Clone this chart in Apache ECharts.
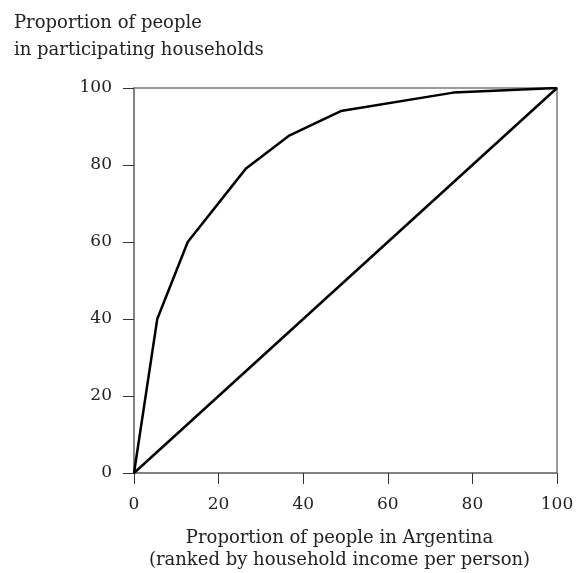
<!DOCTYPE html>
<html><head><meta charset="utf-8">
<script src="https://cdn.jsdelivr.net/npm/echarts@6/dist/echarts.min.js"></script>
<style>html,body{margin:0;padding:0;background:#fff}#c{width:577px;height:573px}</style>
</head><body><div id="c"></div>
<script>
const curveX = [0, 5.5, 12.7, 26.4, 36.8, 48.9, 75.5, 100];
const curveY = [0, 40, 60, 79, 87.7, 94, 98.8, 100];
const equalX = [0, 100];
const equalY = [0, 100];
const xTicks = [0, 20, 40, 60, 80, 100];
const yTicks = [0, 20, 40, 60, 80, 100];
const yTitle = 'Proportion of people\nin participating households';
const xTitle = 'Proportion of people in Argentina\n(ranked by household income per person)';

const FONT = '"DejaVu Serif", "Liberation Serif", serif';
const chart = echarts.init(document.getElementById('c'), null, {renderer: 'canvas'});
const axisCommon = {
  type: 'value', min: 0, max: 100, interval: 20,
  axisLine: {show: true, lineStyle: {color: '#7a7a7a', width: 1.5}},
  axisTick: {show: true, length: 11, lineStyle: {color: '#333', width: 1}},
  splitLine: {show: false},
  axisLabel: {color: '#222', fontSize: 17, fontFamily: FONT}
};
chart.setOption({
  animation: false,
  backgroundColor: '#fff',
  title: {
    text: yTitle, left: 9, top: 5,
    textStyle: {fontSize: 18, lineHeight: 27, fontWeight: 'normal', color: '#222', fontFamily: FONT}
  },
  grid: {left: 134, right: 20, top: 88, bottom: 100, containLabel: false, outerBoundsMode: 'none',
         show: true, borderColor: '#7a7a7a', borderWidth: 1.5},
  xAxis: Object.assign({}, axisCommon, {
    axisLabel: Object.assign({}, axisCommon.axisLabel, {margin: 23, formatter: v => xTicks.includes(v) ? String(v) : ''}),
    name: xTitle, nameLocation: 'middle', nameGap: 54,
    nameTextStyle: {fontSize: 18, lineHeight: 22, color: '#222', fontFamily: FONT, padding: [0, 12, 0, 0]}
  }),
  yAxis: Object.assign({}, axisCommon, {
    axisLabel: Object.assign({}, axisCommon.axisLabel, {margin: 22, formatter: v => yTicks.includes(v) ? String(v) : ''})
  }),
  series: [
    {type: 'line', data: curveX.map((x, i) => [x, curveY[i]]), showSymbol: false, symbol: 'none',
     lineStyle: {color: '#000', width: 2.5}, z: 3},
    {type: 'line', data: equalX.map((x, i) => [x, equalY[i]]), showSymbol: false, symbol: 'none',
     lineStyle: {color: '#000', width: 2.5}, z: 3}
  ]
});
</script></body></html>
